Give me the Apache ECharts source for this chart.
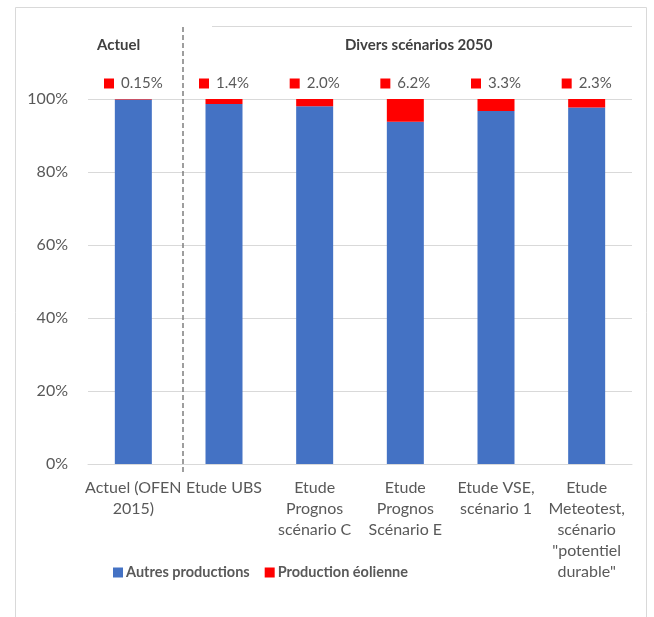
<!DOCTYPE html>
<html>
<head>
<meta charset="utf-8">
<script src="https://cdn.jsdelivr.net/npm/echarts@6/dist/echarts.min.js"></script>
<style>
html, body { margin: 0; padding: 0; background: #fff; }
#main { width: 654px; height: 617px; }
</style>
</head>
<body>
<div id="main"></div>
<script>
// categories (axe x)
var categories = ['Actuel (OFEN\n2015)', 'Etude UBS', 'Etude\nPrognos\nscénario C', 'Etude\nPrognos\nScénario E', 'Etude VSE,\nscénario 1', 'Etude\nMeteotest,\nscénario\n"potentiel\ndurable"'];
// part de l'éolien (%)
var eolien = [0.15, 1.4, 2.0, 6.2, 3.3, 2.3];
var eolienLabels = ['0.15%', '1.4%', '2.0%', '6.2%', '3.3%', '2.3%'];
// autres productions (%)
var autres = [99.85, 98.6, 98.0, 93.8, 96.7, 97.7];
var yTicks = [0, 20, 40, 60, 80, 100, 120];

var font = 'Lato, "Liberation Sans", sans-serif';
var grey = '#595959';

var myChart = echarts.init(document.getElementById('main'));
var option = {
	animation: false,
	textStyle: { fontFamily: font },
	grid: { left: 88, right: 22, top: 26, bottom: 153 },
	legend: {
		left: 108,
		top: 560,
		icon: 'rect',
		itemWidth: 10,
		itemHeight: 10,
		itemGap: 15,
		textStyle: { color: grey, fontWeight: 'bold', fontSize: 14.5, fontFamily: font, padding: [0, 0, 0, -2] },
		data: ['Autres productions', 'Production éolienne']
	},
	xAxis: [{
		type: 'category',
		data: categories,
		axisLine: { lineStyle: { color: '#d9d9d9' } },
		axisTick: { show: false },
		axisLabel: { interval: 0, color: grey, fontSize: 16, lineHeight: 21, margin: 13, fontFamily: font }
	}],
	yAxis: [{
		type: 'value',
		min: yTicks[0],
		max: yTicks[yTicks.length - 1],
		interval: 20,
		axisLine: { show: false },
		axisTick: { show: false },
		splitLine: { lineStyle: { color: '#d9d9d9' } },
		axisLabel: {
			color: grey, fontSize: 16, margin: 20, fontFamily: font,
			formatter: function(v) { return v == 120 ? '' : v + '%'; }
		}
	}],
	series: [{
		name: 'Autres productions',
		type: 'bar',
		stack: 'total',
		barWidth: 37,
		itemStyle: { color: '#4472c4' },
		data: autres
	}, {
		name: 'Production éolienne',
		type: 'bar',
		stack: 'total',
		barWidth: 37,
		itemStyle: { color: '#ff0000' },
		label: {
			show: true,
			position: 'top',
			distance: 8,
			formatter: function(p) { return '{sq|}{v|' + eolienLabels[p.dataIndex] + '}'; },
			rich: {
				sq: { width: 10, height: 10, backgroundColor: '#ff0000' },
				v: { color: grey, fontSize: 15, fontFamily: font, padding: [0, 0, 0, 7] }
			}
		},
		data: eolien
	}],
	graphic: [
		// cadre
		{ type: 'rect', shape: { x: 15.5, y: 7.5, width: 631, height: 640 }, style: { fill: 'none', stroke: '#d9d9d9', lineWidth: 1 }, z: 100 },
		// masque ligne 120% sous "Actuel"
		{ type: 'rect', shape: { x: 80, y: 20, width: 132, height: 12 }, style: { fill: '#fff' }, z: 50 },
		// séparateur pointillé
		{ type: 'line', shape: { x1: 183, y1: 27, x2: 183, y2: 475 }, style: { stroke: '#7f7f7f', lineWidth: 1.5, lineDash: [5, 3] }, z: 60 },
		{ type: 'text', left: 97, top: 38, style: { text: 'Actuel', fill: '#404040', font: 'bold 15px ' + font }, z: 60 },
		{ type: 'text', left: 345, top: 38, style: { text: 'Divers scénarios 2050', fill: '#404040', font: 'bold 15px ' + font }, z: 60 }
	]
};
myChart.setOption(option);
</script>
</body>
</html>
